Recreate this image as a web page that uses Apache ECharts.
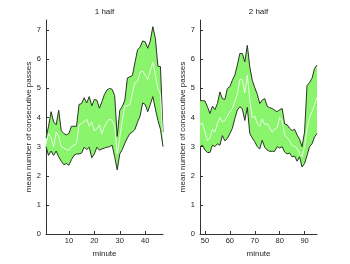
<!DOCTYPE html>
<html>
<head>
<meta charset="utf-8">
<script src="https://cdn.jsdelivr.net/npm/echarts@6/dist/echarts.min.js"></script>
<style>html,body{margin:0;padding:0;background:#fff}#c{width:350px;height:264px}</style>
</head>
<body>
<div id="c"></div>
<script>
// ---- data ----
var minutes1 = [1,2,3,4,5,6,7,8,9,10,11,12,13,14,15,16,17,18,19,20,21,22,23,24,25,26,27,28,29,30,31,32,33,34,35,36,37,38,39,40,41,42,43,44,45,46,47];
var upper1 = [3.3,3.7,4.2,3.85,3.75,4.25,3.55,3.45,3.4,3.45,3.7,3.7,3.7,4.45,4.48,4.68,4.5,4.72,4.4,4.62,4.6,4.32,4.55,4.8,4.95,5.0,4.97,4.75,3.35,4.25,4.38,4.6,5.36,5.4,5.45,5.9,6.33,6.42,6.63,6.6,6.38,6.63,7.12,6.72,5.76,5.75,3.5];
var mean1  = [3.1,3.45,3.3,3.0,3.5,3.35,3.0,2.95,2.9,2.88,3.0,3.05,3.1,3.75,3.8,3.85,3.95,3.7,3.85,3.55,3.6,3.75,3.45,3.7,3.85,3.95,3.9,3.7,2.75,3.3,3.9,4.4,4.4,4.45,4.85,5.2,5.25,5.55,5.6,5.45,5.3,5.6,5.9,5.45,5.0,4.8,3.3];
var lower1 = [3.0,2.7,2.85,2.7,2.85,2.65,2.5,2.38,2.42,2.36,2.55,2.7,2.75,2.75,2.78,2.98,2.9,2.98,2.62,2.75,2.98,2.88,2.92,2.95,2.98,3.0,3.05,2.65,2.2,2.75,2.9,3.12,3.3,3.45,3.5,3.6,3.85,4.05,4.5,4.45,4.2,4.45,4.72,4.3,3.9,3.6,3.0];

var minutes2 = [48,49,50,51,52,53,54,55,56,57,58,59,60,61,62,63,64,65,66,67,68,69,70,71,72,73,74,75,76,77,78,79,80,81,82,83,84,85,86,87,88,89,90,91,92,93,94,95];
var upper2 = [4.58,4.58,4.57,4.37,4.14,4.39,4.27,4.48,4.88,4.65,4.62,5.0,5.06,5.28,5.46,5.8,6.2,6.2,5.91,6.48,5.74,5.28,5.03,4.8,4.48,4.6,4.65,4.39,4.34,4.31,4.25,4.2,4.27,4.31,3.78,3.75,3.63,3.55,3.6,3.4,3.25,3.0,3.5,5.1,5.2,5.35,5.68,5.8];
var mean2  = [3.78,3.8,3.5,3.2,3.3,3.6,3.5,3.8,4.0,3.85,3.9,4.05,4.2,4.3,4.55,4.8,5.3,5.3,4.85,5.45,4.6,4.0,4.05,3.8,3.7,3.95,3.75,3.8,3.65,3.5,3.6,3.65,4.0,3.9,3.4,3.3,3.2,3.05,3.0,2.95,2.75,2.65,3.0,3.6,4.0,4.2,4.45,4.7];
var lower2 = [3.0,3.05,2.88,2.8,2.8,3.05,3.0,3.1,3.05,3.38,3.2,3.28,3.45,3.63,3.97,4.26,4.37,4.3,3.9,4.35,3.45,3.3,3.17,3.0,2.92,3.22,2.98,2.88,2.84,2.84,2.84,3.0,2.95,3.0,2.82,2.75,2.78,2.65,2.68,2.5,2.65,2.3,2.42,2.7,3.0,3.1,3.33,3.45];

var titles = ['1 half', '2 half'];
var xTicks1 = [10,20,30,40];
var xTicks2 = [50,60,70,80,90];
var yLabel = 'mean number of consecutive passes';
var xLabel = 'minute';

// ---- chart ----
var FONT = 'Liberation Sans, Arial, sans-serif';
var TXT = '#1e1e1e';
var GREEN = '#8af46c';
var EDGE = '#2a3527';

function pairs(xs, ys) { return xs.map(function (x, i) { return [x, ys[i]]; }); }

var grids = [
  { left: 46, width: 117, top: 20, bottom: 30 },
  { left: 200, width: 117, top: 20, bottom: 30 }
];

function xAxis(idx, mn, mx, ticks) {
  return {
    type: 'value', gridIndex: idx, min: mn, max: mx,
    name: xLabel, nameLocation: 'middle', nameGap: 11.5,
    nameTextStyle: { fontFamily: FONT, fontSize: 8, color: TXT },
    axisLine: { show: true, lineStyle: { color: '#333', width: 1 } },
    axisTick: { show: true, inside: true, length: 3, customValues: ticks, lineStyle: { color: '#333' } },
    axisLabel: { customValues: ticks, fontFamily: FONT, fontSize: 7.5, color: TXT, margin: 3 },
    splitLine: { show: false }
  };
}
function yAxis(idx) {
  return {
    type: 'value', gridIndex: idx, min: 0, max: 7.35, interval: 1,
    name: yLabel, nameLocation: 'middle', nameGap: 11.5, nameRotate: 90,
    nameTextStyle: { fontFamily: FONT, fontSize: 8, color: TXT },
    axisLine: { show: true, lineStyle: { color: '#333', width: 1 } },
    axisTick: { show: true, inside: true, length: 3, lineStyle: { color: '#333' } },
    axisLabel: { fontFamily: FONT, fontSize: 7.5, color: TXT, margin: 5, showMaxLabel: false,
      formatter: function (v) { return Number.isInteger(v) ? String(v) : ''; } },
    splitLine: { show: false }
  };
}

function bandSeries(idx, xs, up, me, lo) {
  var common = { xAxisIndex: idx, yAxisIndex: idx, silent: true, animation: false };
  return [
    Object.assign({}, common, {
      type: 'custom', z: 1, clip: true,
      data: [[xs[0], up[0]]],
      renderItem: function (params, api) {
        var pts = [];
        for (var i = 0; i < xs.length; i++) pts.push(api.coord([xs[i], up[i]]));
        for (var j = xs.length - 1; j >= 0; j--) pts.push(api.coord([xs[j], lo[j]]));
        return { type: 'polygon', shape: { points: pts }, style: { fill: GREEN, stroke: null } };
      }
    }),
    Object.assign({}, common, { type: 'line', z: 2, symbol: 'none', data: pairs(xs, up), lineStyle: { color: EDGE, width: 1 } }),
    Object.assign({}, common, { type: 'line', z: 2, symbol: 'none', data: pairs(xs, lo), lineStyle: { color: EDGE, width: 1 } }),
    Object.assign({}, common, { type: 'line', z: 3, symbol: 'none', data: pairs(xs, me), lineStyle: { color: '#ffffff', width: 0.8 } })
  ];
}

var chart = echarts.init(document.getElementById('c'), null, { renderer: 'canvas' });
chart.setOption({
  animation: false,
  backgroundColor: '#fff',
  grid: grids,
  xAxis: [xAxis(0, 1, 47, xTicks1), xAxis(1, 48, 95, xTicks2)],
  yAxis: [yAxis(0), yAxis(1)],
  graphic: [
    { type: 'text', x: 104.5, y: 11.5, style: { text: titles[0], textAlign: 'center', textVerticalAlign: 'middle', fontFamily: FONT, fontSize: 8, fill: TXT } },
    { type: 'text', x: 258.5, y: 11.5, style: { text: titles[1], textAlign: 'center', textVerticalAlign: 'middle', fontFamily: FONT, fontSize: 8, fill: TXT } }
  ],
  series: bandSeries(0, minutes1, upper1, mean1, lower1).concat(bandSeries(1, minutes2, upper2, mean2, lower2))
});
</script>
</body>
</html>
